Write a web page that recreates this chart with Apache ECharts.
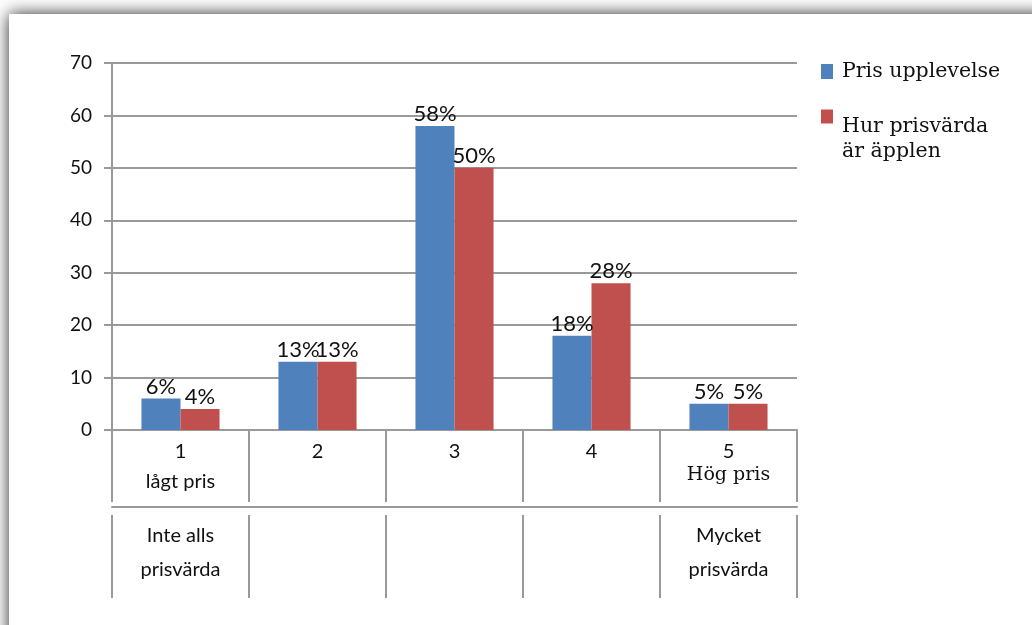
<!DOCTYPE html>
<html>
<head>
<meta charset="utf-8">
<script src="https://cdn.jsdelivr.net/npm/echarts@6/dist/echarts.min.js"></script>
<style>
  html, body { margin: 0; padding: 0; width: 1032px; height: 625px; overflow: hidden; background: #fff; }
  #frame { position: absolute; left: 9px; top: 14px; width: 1100px; height: 700px; background: #fff;
           box-shadow: 0 0 16px rgba(0,0,0,0.85); }
  #chart { position: absolute; left: 0; top: 0; width: 1032px; height: 625px; }
</style>
</head>
<body>
<div id="frame"></div>
<div id="chart"></div>
<script>
// Survey answers on a 1–5 scale, share of respondents (%)
const categories = ['1', '2', '3', '4', '5'];
const scaleLabels = ['lågt pris', '', '', '', 'Hög pris'];
const groupLabels = ['Inte alls\nprisvärda', '', '', '', 'Mycket\nprisvärda'];
const seriesNames = ['Pris upplevelse', 'Hur prisvärda är äpplen'];
const prisUpplevelse = [6, 13, 58, 18, 5];
const prisvardaApplen = [4, 13, 50, 28, 5];
const yTicks = { min: 0, max: 70, interval: 10 };

const gridColor = '#9a9a9a';
const textColor = '#111';
const sans = 'Lato';
const serif = 'DejaVu Serif';

const chart = echarts.init(document.getElementById('chart'), null, { renderer: 'canvas' });

const barLabel = {
  show: true,
  position: 'top',
  distance: 1,
  formatter: '{c}%',
  fontFamily: sans,
  fontSize: 22,
  color: textColor
};

const legendText = {
  fontFamily: serif, fontSize: 20.5, color: textColor,
  rich: {
    t: { fontFamily: serif, fontSize: 20.5, color: textColor, lineHeight: 25, padding: [0, 0, 0, 4] },
    g: { fontSize: 1, lineHeight: 45 }
  }
};

chart.setOption({
  backgroundColor: 'transparent',
  animation: false,
  color: ['#4f81bd', '#c0504d'],
  grid: { left: 112, right: 235, top: 63, bottom: 195, containLabel: false },
  legend: [
    {
      data: [seriesNames[0]],
      left: 821, top: 61, padding: 0,
      itemWidth: 12, itemHeight: 15,
      icon: 'rect',
      formatter: name => '{t|' + name + '}',
      textStyle: legendText
    },
    {
      data: [seriesNames[1]],
      left: 821, top: 91, padding: 0,
      itemWidth: 12, itemHeight: 14,
      icon: 'rect',
      // second name wraps onto two lines, first line just below the swatch
      formatter: name => '{g| }\n' + name.split(' är ').map((s, i) => '{t|' + (i ? 'är ' + s : s) + '}').join('\n'),
      textStyle: legendText
    }
  ],
  xAxis: [
    {
      type: 'category',
      data: categories,
      position: 'bottom',
      axisLine: { show: true, lineStyle: { color: gridColor, width: 2 } },
      axisTick: { show: true, length: 72, interval: 0, lineStyle: { color: gridColor, width: 2 } },
      axisLabel: {
        interval: 0,
        margin: 7,
        fontFamily: sans,
        fontSize: 20,
        lineHeight: 30,
        color: textColor,
        verticalAlign: 'top',
        formatter: (v, i) => {
          const sub = scaleLabels[i];
          if (!sub) return v;
          return i === 4 ? v + '\n{s|' + sub + '}' : v + '\n' + sub;
        },
        rich: { s: { fontFamily: serif, fontSize: 19, lineHeight: 16, color: textColor } }
      }
    },
    {
      type: 'category',
      data: groupLabels,
      position: 'bottom',
      offset: 85,
      axisLine: { show: false },
      axisTick: { show: true, length: 83, interval: 0, lineStyle: { color: gridColor, width: 2 } },
      axisLabel: {
        interval: 0,
        margin: 4,
        fontFamily: sans,
        fontSize: 20,
        lineHeight: 34,
        color: textColor,
        verticalAlign: 'top'
      }
    },
    {
      type: 'category',
      data: categories,
      position: 'bottom',
      offset: 77,
      axisLine: { show: true, lineStyle: { color: gridColor, width: 2 } },
      axisTick: { show: false },
      axisLabel: { show: false }
    }
  ],
  yAxis: {
    type: 'value',
    min: yTicks.min,
    max: yTicks.max,
    interval: yTicks.interval,
    axisLine: { show: true, lineStyle: { color: gridColor, width: 2 } },
    axisTick: { show: true, length: 8, lineStyle: { color: gridColor, width: 2 } },
    splitLine: { show: true, lineStyle: { color: gridColor, width: 2 } },
    axisLabel: { margin: 20, fontFamily: sans, fontSize: 19, color: textColor }
  },
  series: [
    {
      name: seriesNames[0],
      type: 'bar',
      data: prisUpplevelse,
      barGap: '0%',
      barCategoryGap: '43%',
      label: barLabel
    },
    {
      name: seriesNames[1],
      type: 'bar',
      data: prisvardaApplen,
      barGap: '0%',
      barCategoryGap: '43%',
      label: barLabel
    }
  ]
});
</script>
</body>
</html>
